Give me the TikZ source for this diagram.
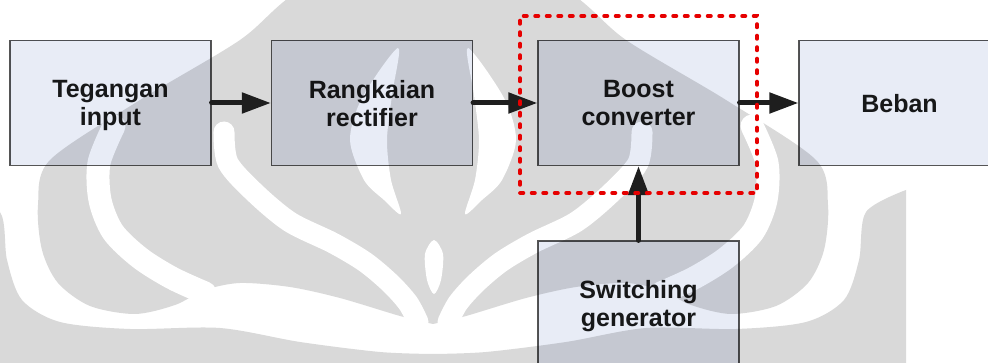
\documentclass[tikz,border=0pt]{standalone}
\usepackage{fontspec}
\setmainfont{Liberation Sans}
\usetikzlibrary{arrows.meta}

\definecolor{boxfill}{HTML}{E8ECF6}
\definecolor{boxline}{HTML}{555555}
\definecolor{markgray}{HTML}{D9D9D9}
\definecolor{arrowink}{HTML}{1E1E1E}
\definecolor{textink}{HTML}{1A1A1A}
\definecolor{dashred}{HTML}{E60000}

% one half of the faint emblem in the background (mirrored about x = 433)
\newcommand{\emblemhalf}{%
  % main body
  \fill[markgray] plot[smooth] coordinates {(433,-80) (300,-10) (240,40) (140,100)
    (50,160) (38,205) (42,250) (58,283) (90,306) (135,314) (175,305) (205,290)
    (240,283) (290,287) (340,298) (400,316) (433,324)} -- cycle;
  % outer band
  \fill[markgray] plot[smooth] coordinates {(-40,190) (0,212) (7,260) (22,300)
    (60,322) (130,329) (220,328) (300,342) (380,352) (433,354)}
    -- (433,400) -- (-40,400) -- cycle;
  % inner white bands
  \draw[white, line width=23pt, line cap=round] plot[smooth] coordinates
    {(114,126) (99,163) (100,200) (113,232) (140,258) (172,278) (205,293)};
  \draw[white, line width=21pt, line cap=round] plot[smooth] coordinates
    {(224,132) (228,163) (255,193) (290,222) (333,243) (365,262) (390,283)
     (408,303) (418,322)};
  % leaf
  \fill[white] plot[smooth cycle] coordinates {(398,48) (362,98) (350,140)
    (364,180) (384,200) (401,214) (391,180) (387,140) (392,95)};
}

\begin{document}
\begin{tikzpicture}[x=1pt, y=-1pt,
  block/.style={draw=boxline, fill=boxfill, line width=1.2pt,
    minimum width=201pt, minimum height=125pt, inner sep=0pt, align=center,
    text depth=0pt, text=textink,
    font=\bfseries\fontsize{25}{28}\selectfont},
  link/.style={draw=arrowink, line width=5pt, line cap=round,
    -{Triangle[length=29pt,width=20pt]}},
  focusbox/.style={draw=dashred, line width=3.5pt, line cap=round,
    dash pattern=on 3.5pt off 8pt, minimum width=237pt, minimum height=177pt,
    inner sep=0pt}]
\useasboundingbox (0,0) rectangle (988,363);
\fill[white] (0,0) rectangle (988,363);

% background emblem
\emblemhalf
\begin{scope}[shift={(866,0)}, xscale=-1]
  \emblemhalf
\end{scope}
\fill[white] plot[smooth cycle] coordinates {(434,240) (443,254) (441,280)
  (434,294) (427,280) (425,254)};

% blocks
\begin{scope}[blend mode=multiply]
  \node[block] (tin)   at (110.5,103) {Tegangan\\input};
  \node[block] (rect)  at (372,103)   {Rangkaian\\rectifier};
  \node[block] (boost) at (638.5,103) {Boost\\converter};
  \node[block] (load)  at (899.5,103) {Beban};
  \node[block] (sw)    at (638.5,303.5) {Switching\\generator};
\end{scope}

% signal flow
\draw[link] (tin.east) -- (rect.west);
\draw[link] (rect.east) -- (boost.west);
\draw[link] (boost.east) -- (load.west);
\draw[link] (sw.north) -- (boost.south);

% highlighted stage
\node[focusbox] (focus) at (638.5,104.5) {};
\end{tikzpicture}
\end{document}
